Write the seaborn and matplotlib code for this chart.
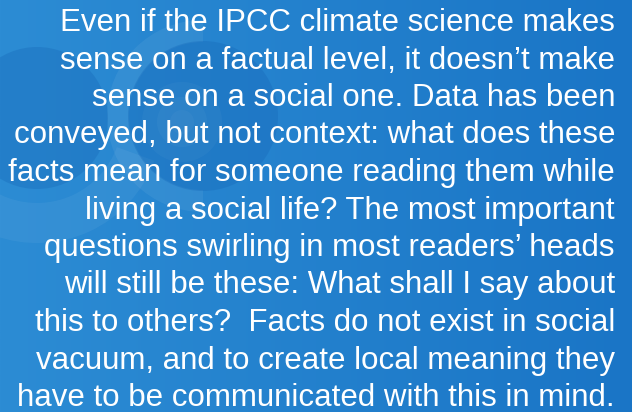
import numpy as np
import matplotlib
matplotlib.use("Agg")
import matplotlib.pyplot as plt
import seaborn as sns
from matplotlib.patches import Circle, Wedge

# text lines, right aligned
lines = [
    "Even if the IPCC climate science makes",
    "sense on a factual level, it doesn\u2019t make",
    "sense on a social one. Data has been",
    "conveyed, but not context: what does these",
    "facts mean for someone reading them while",
    "living a social life? The most important",
    "questions swirling in most readers\u2019 heads",
    "will still be these: What shall I say about",
    "this to others?  Facts do not exist in social",
    "vacuum, and to create local meaning they",
    "have to be communicated with this in mind.",
]

sns.set_theme(style="white")
plt.rcParams['font.family'] = ['Liberation Sans', 'DejaVu Sans']

fig = plt.figure(figsize=(6.32, 4.12), dpi=100)
ax = fig.add_axes([0, 0, 1, 1])
ax.set_xlim(0, 632)
ax.set_ylim(412, 0)
ax.axis('off')

# blue gradient background
xx = np.linspace(0, 1, 300)
left = np.array([44, 140, 212]) / 255
right = np.array([26, 117, 198]) / 255
grad = left[None, :] * (1 - xx[:, None]) + right[None, :] * xx[:, None]
img = np.repeat(grad[None, :, :], 2, axis=0)
ax.imshow(img, extent=[0, 632, 412, 0], aspect='auto', zorder=0)

# soft swirl shapes in the top left
ax.add_patch(Wedge((37, 118), 125, 20, 200, width=40, color='white', alpha=0.05, lw=0, zorder=1))
ax.add_patch(Wedge((203, 116), 96, 90, 270, width=22, color='white', alpha=0.06, lw=0, zorder=1))
ax.add_patch(Circle((37, 118), 71, color='#1668b8', alpha=0.35, lw=0, zorder=1))
ax.add_patch(Circle((203, 116), 75, color='#1668b8', alpha=0.35, lw=0, zorder=1))
for r, a in [(40, 0.03), (25, 0.03), (12, 0.03)]:
    ax.add_patch(Circle((182, 122), r, color='white', alpha=a, lw=0, zorder=1))

y0 = 23
step = 37.5
for i, line in enumerate(lines):
    ax.text(615, y0 + i * step, line, ha='right', va='center',
            color='white', fontsize=22.5, zorder=3)

fig.savefig("out.png", dpi=100)
